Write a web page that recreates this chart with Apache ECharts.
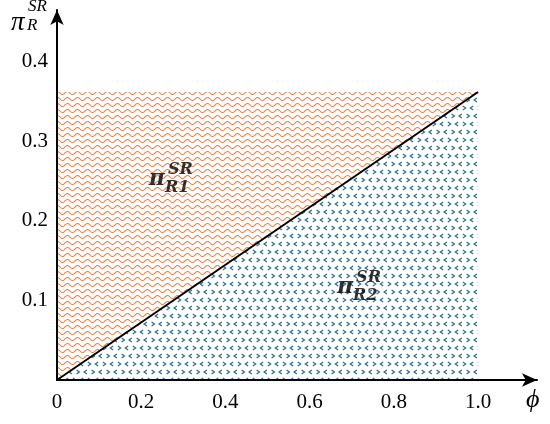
<!DOCTYPE html>
<html>
<head>
<meta charset="utf-8">
<script src="https://cdn.jsdelivr.net/npm/echarts@6/dist/echarts.min.js"></script>
<style>
  html, body { margin: 0; padding: 0; background: #fff; }
</style>
</head>
<body>
<div id="chart" style="width: 550px; height: 424px"></div>
<script>
// data
const phiTicks = [0, 0.2, 0.4, 0.6, 0.8, 1.0]
const piTicks = [0.1, 0.2, 0.3, 0.4]
const boundaryPhi = [0, 1.0]        // dividing line
const boundaryPi = [0, 0.362]
const r1Phi = [0, 0, 1.0]           // region above the line
const r1Pi = [0, 0.362, 0.362]
const r2Phi = [0, 1.0, 1.0]         // region below the line
const r2Pi = [0, 0, 0.362]
const r1LabelAt = [0.242, 0.254]
const r2LabelAt = [0.689, 0.118]

const serif = '"Liberation Serif", "DejaVu Serif", serif'
const boldSerif = '"DejaVu Serif", serif'

// pattern tiles
function wavePattern() {
  const c = document.createElement('canvas')
  c.width = 10; c.height = 6
  const ctx = c.getContext('2d')
  ctx.strokeStyle = '#f3844a'
  ctx.lineWidth = 1.1
  ctx.beginPath()
  for (let x = 0; x <= 10; x += 0.5) {
    const y = 3 + 1.5 * Math.sin(2 * Math.PI * x / 10)
    if (x === 0) ctx.moveTo(x, y); else ctx.lineTo(x, y)
  }
  ctx.stroke()
  return c
}

function chevronPattern() {
  const c = document.createElement('canvas')
  c.width = 15; c.height = 16
  const ctx = c.getContext('2d')
  ctx.strokeStyle = '#2f7098'
  ctx.lineWidth = 1.3
  const mark = (x, y, dir) => {
    ctx.beginPath()
    ctx.moveTo(x - dir * 1.4, y - 2)
    ctx.lineTo(x + dir * 1.4, y)
    ctx.lineTo(x - dir * 1.4, y + 2)
    ctx.stroke()
  }
  mark(3, 4, 1); mark(10.5, 4, -1)
  mark(6.75, 12, -1); mark(14.25, 12, 1); mark(-0.75, 12, 1)
  return c
}

function polygon(xs, ys, fill) {
  return {
    type: 'custom',
    silent: true,
    z: 1,
    encode: { x: 0, y: 1 },
    data: xs.map((x, i) => [x, ys[i]]),
    renderItem: (params, api) => {
      if (params.dataIndex !== 0) return
      const pts = xs.map((x, i) => api.coord([x, ys[i]]))
      return { type: 'polygon', shape: { points: pts }, style: { fill: fill } }
    }
  }
}

function textMark(at, text, dx, dy, size, align) {
  return {
    value: at,
    label: {
      show: true,
      position: 'inside',
      formatter: text,
      offset: [dx, dy],
      align: align,
      verticalAlign: 'middle',
      fontFamily: boldSerif,
      fontStyle: 'italic',
      fontWeight: 'bold',
      fontSize: size,
      color: '#000'
    }
  }
}

const chart = echarts.init(document.getElementById('chart'))
const option = {
  animation: false,
  grid: { left: 57, right: 13, top: 10, bottom: 44 },
  xAxis: {
    type: 'value',
    min: 0,
    max: 1.14,
    z: 5,
    splitLine: { show: false },
    axisTick: { show: false },
    axisLine: {
      show: true,
      symbol: ['none', 'arrow'],
      symbolSize: [10, 15],
      lineStyle: { color: '#000', width: 2 }
    },
    axisLabel: {
      customValues: phiTicks,
      margin: 12,
      fontFamily: serif,
      fontSize: 21,
      color: '#000',
      formatter: v => v === 0 ? '0' : v.toFixed(1)
    }
  },
  yAxis: {
    type: 'value',
    min: 0,
    max: 0.465,
    z: 5,
    splitLine: { show: false },
    axisTick: { show: false },
    axisLine: {
      show: true,
      symbol: ['none', 'arrow'],
      symbolSize: [10, 15],
      lineStyle: { color: '#000', width: 2 }
    },
    axisLabel: {
      customValues: piTicks,
      margin: 9,
      fontFamily: serif,
      fontSize: 21,
      color: '#000',
      formatter: v => v.toFixed(1)
    }
  },
  graphic: [
    { type: 'text', left: 11, top: 9, style: { text: 'π', font: 'italic 27px ' + serif, fill: '#000' } },
    { type: 'text', left: 28, top: -2, style: { text: 'SR', font: 'italic 17px ' + serif, fill: '#000' } },
    { type: 'text', left: 27, top: 17, style: { text: 'R', font: 'italic 17px ' + serif, fill: '#000' } },
    { type: 'text', left: 526, top: 387, style: { text: 'ϕ', font: 'italic 26px ' + serif, fill: '#000' } }
  ],
  series: [
    polygon(r1Phi, r1Pi, { image: wavePattern(), repeat: 'repeat' }),
    polygon(r2Phi, r2Pi, { image: chevronPattern(), repeat: 'repeat' }),
    {
      type: 'line',
      z: 3,
      symbol: 'none',
      silent: true,
      lineStyle: { color: '#000', width: 2 },
      data: boundaryPhi.map((x, i) => [x, boundaryPi[i]])
    },
    {
      type: 'scatter',
      z: 4,
      symbolSize: 0,
      silent: true,
      data: [
        textMark(r1LabelAt, 'π', 6, 1, 22, 'right'),
        textMark(r1LabelAt, 'SR', 9, -8, 16, 'left'),
        textMark(r1LabelAt, 'R1', 6, 10, 16, 'left'),
        textMark(r2LabelAt, 'π', 6, 1, 22, 'right'),
        textMark(r2LabelAt, 'SR', 9, -8, 16, 'left'),
        textMark(r2LabelAt, 'R2', 6, 10, 16, 'left')
      ]
    }
  ]
}
chart.setOption(option)
</script>
</body>
</html>
